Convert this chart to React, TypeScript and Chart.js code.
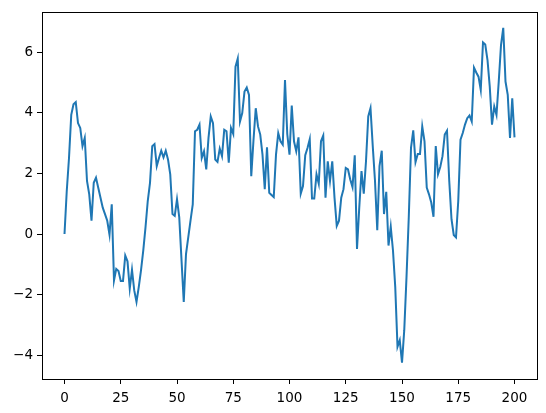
import { useEffect, useRef } from 'react';
import Chart from 'chart.js/auto';

// valores (paseo aleatorio, 201 puntos)
const steps: number[] = Array.from({ length: 201 }, (_, i) => i);
const walk: number[] = [
  0, 1.42, 2.51, 3.93, 4.28, 4.35, 3.66, 3.5, 2.9, 3.17,
  1.75, 1.31, 0.44, 1.69, 1.86, 1.53, 1.2, 0.87, 0.66, 0.44,
  -0.02, 0.98, -1.53, -1.15, -1.22, -1.55, -1.55, -0.71, -0.9, -1.8,
  -1.18, -1.86, -2.24, -1.75, -1.2, -0.55, 0.22, 1.09, 1.69, 2.9,
  2.97, 2.24, 2.51, 2.75, 2.53, 2.75, 2.46, 1.97, 0.66, 0.6,
  1.15, 0.55, -0.85, -2.24, -0.66, -0.11, 0.44, 0.98, 3.39, 3.44,
  3.61, 2.51, 2.73, 2.13, 3.17, 3.88, 3.66, 2.46, 2.38, 2.82,
  2.57, 3.44, 3.39, 2.35, 3.5, 3.3, 5.52, 5.79, 3.71, 3.99,
  4.7, 4.83, 4.59, 1.91, 3.1, 4.15, 3.55, 3.28, 2.62, 1.48,
  2.86, 1.36, 1.29, 1.22, 2.62, 3.33, 3.06, 2.95, 5.08, 3.3,
  2.62, 4.24, 3.06, 2.73, 3.19, 1.33, 1.58, 2.6, 2.84, 3.13,
  1.17, 1.17, 1.97, 1.66, 3.06, 3.25, 1.2, 2.4, 1.75, 2.4,
  1.2, 0.27, 0.44, 1.2, 1.48, 2.18, 2.13, 1.8, 1.55, 2.6,
  -0.49, 0.87, 2.08, 1.33, 2.4, 3.88, 4.15, 2.9, 1.75, 0.13,
  2.24, 2.75, 0.66, 1.39, -0.38, 0.24, -0.55, -1.75, -3.72, -3.5,
  -4.24, -3.17, -1.42, 0.54, 2.84, 3.42, 2.37, 2.64, 2.64, 3.55,
  3.06, 1.53, 1.31, 1.04, 0.57, 2.9, 1.97, 2.21, 2.57, 3.28,
  3.41, 1.75, 0.49, -0.03, -0.11, 1.09, 3.11, 3.33, 3.61, 3.82,
  3.91, 3.71, 5.49, 5.33, 5.19, 4.75, 6.32, 6.25, 5.74, 4.86,
  3.61, 4.21, 3.93, 5.03, 6.23, 6.8, 5.03, 4.59, 3.17, 4.48,
  3.19,
];
const xTicks = [0, 25, 50, 75, 100, 125, 150, 175, 200];
const yTicks = [-4, -2, 0, 2, 4, 6];

const font = { family: 'DejaVu Sans', size: 13.5 };

// signo menos tipográfico, como matplotlib
const fmt = (v: number | string) => String(v).replace('-', '\u2212');

// marco completo como en matplotlib
const frame = {
  id: 'frame',
  afterDraw(chart: any) {
    const { ctx, chartArea: a } = chart;
    ctx.save();
    ctx.strokeStyle = '#000';
    ctx.lineWidth = 1;
    ctx.strokeRect(Math.round(a.left) + 0.5, Math.round(a.top) + 0.5, Math.round(a.right - a.left), Math.round(a.bottom - a.top));
    ctx.restore();
  },
};

export default function App() {
  const chartRef = useRef<HTMLCanvasElement>(null);

  useEffect(() => {
    if (!chartRef.current) return;
    const ctx = chartRef.current.getContext('2d');
    if (!ctx) return;

    const chart = new Chart(ctx, {
      type: 'line',
      data: {
        datasets: [
          {
            data: steps.map((x, i) => ({ x, y: walk[i] })),
            borderColor: '#1f77b4',
            borderWidth: 2,
            pointRadius: 0,
            tension: 0,
            fill: false,
          },
        ],
      },
      options: {
        responsive: false,
        animation: false,
        layout: { padding: { top: 10, right: 9, left: 0, bottom: 0 } },
        plugins: { legend: { display: false }, tooltip: { enabled: false } },
        scales: {
          x: {
            type: 'linear',
            min: -10,
            max: 210,
            afterBuildTicks: (axis: any) => {
              axis.ticks = xTicks.map((v) => ({ value: v }));
            },
            afterFit: (axis: any) => {
              axis.height = 34;
            },
            grid: { drawOnChartArea: false, tickLength: 5, tickColor: '#000' },
            border: { display: false },
            ticks: { color: '#000', font, padding: 6, maxRotation: 0, callback: (v: any) => fmt(v) },
          },
          y: {
            type: 'linear',
            min: -4.78,
            max: 7.32,
            afterBuildTicks: (axis: any) => {
              axis.ticks = yTicks.map((v) => ({ value: v }));
            },
            afterFit: (axis: any) => {
              axis.width = 42;
            },
            grid: { drawOnChartArea: false, tickLength: 5, tickColor: '#000' },
            border: { display: false },
            ticks: { color: '#000', font, padding: 4, callback: (v: any) => fmt(v) },
          },
        },
      },
      plugins: [frame],
    });

    return () => {
      chart.destroy();
    };
  }, []);

  return (
    <div style={{ position: 'fixed', left: 0, top: 0, width: 546, height: 413, background: '#fff' }}>
      <canvas ref={chartRef} width={546} height={413}></canvas>
    </div>
  );
}
